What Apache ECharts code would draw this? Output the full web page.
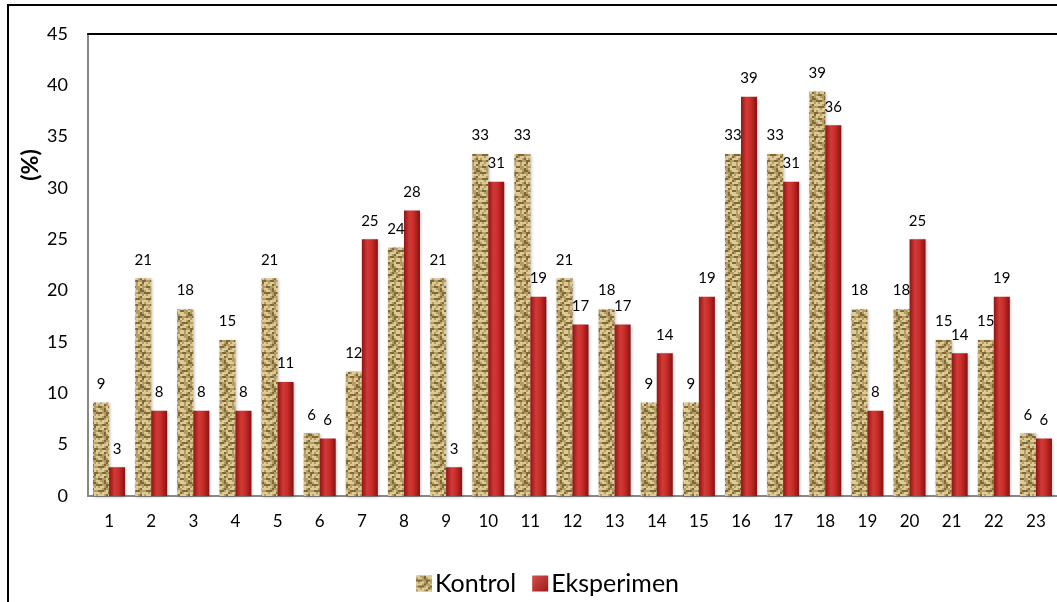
<!DOCTYPE html>
<html><head><meta charset="utf-8">
<script src="https://cdn.jsdelivr.net/npm/echarts@6/dist/echarts.min.js"></script>
<style>html,body{margin:0;padding:0;background:#fff}#c{width:1057px;height:602px}</style>
</head><body><div id="c"></div>
<script>
var categories = ['1','2','3','4','5','6','7','8','9','10','11','12','13','14','15','16','17','18','19','20','21','22','23'];
var kontrol = [9.1,21.2,18.2,15.2,21.2,6.1,12.1,24.2,21.2,33.3,33.3,21.2,18.2,9.1,9.1,33.3,33.3,39.4,18.2,18.2,15.2,15.2,6.1];
var eksperimen = [2.8,8.3,8.3,8.3,11.1,5.6,25.0,27.8,2.8,30.6,19.4,16.7,16.7,13.9,19.4,38.9,30.6,36.1,8.3,25.0,13.9,19.4,5.6];
var yTicks = [0,5,10,15,20,25,30,35,40,45];

// woven burlap-like texture for Kontrol (fixed hand-made tile)
function makeTexture(){
  var rows = [
    "LLMMDLLLMMDM",
    "MLLMDMLLLMDD",
    "DDDMMDDMMDMM",
    "LMLLMDLMLLLM",
    "LLLMDMMLLMDL",
    "MDDDMLMDDDMM",
    "LLMLLLDMLLML",
    "MLLLMDLLLMDL",
    "DMMDDMMDDMMD",
    "LLMLLMLLMLLD",
    "LMLLDMLLMLDM",
    "MDDMMLDDMMLM"];
  var col = {L:'#ddca94', M:'#b59c63', D:'#7d6839'};
  var s = 2;
  var c = document.createElement('canvas'); c.width = 12*s; c.height = 12*s;
  var g = c.getContext('2d');
  for (var y=0;y<rows.length;y++) for (var x=0;x<rows[y].length;x++){ g.fillStyle = col[rows[y][x]]; g.fillRect(x*s,y*s,s,s); }
  return c;
}
var tex = makeTexture();
var redGrad = new echarts.graphic.LinearGradient(0,0,1,0,[
  {offset:0,color:'#8f1515'},{offset:0.35,color:'#d23a36'},{offset:0.6,color:'#c92d2a'},{offset:1,color:'#861212'}]);
var redIcon = new echarts.graphic.LinearGradient(0,0,1,1,[{offset:0,color:'#d8504a'},{offset:1,color:'#9a1a1a'}]);

var chart = echarts.init(document.getElementById('c'));
chart.setOption({
  animation:false,
  textStyle:{fontFamily:'Lato'},
  grid:{left:88,right:0,top:34,bottom:106},
  graphic:[
    {type:'rect',shape:{x:8,y:5,width:1200,height:700},style:{fill:'none',stroke:'#000',lineWidth:2},silent:true},
    {type:'text',x:31,y:165,rotation:Math.PI/2,style:{text:'(%)',font:'bold 23px Lato',fill:'#000',align:'center',verticalAlign:'middle'}}
  ],
  legend:{left:411,top:566,itemWidth:16,itemHeight:16,itemGap:16,textStyle:{fontSize:25,color:'#000',fontFamily:'Lato',padding:[0,0,0,-2]},
    data:[{name:'Kontrol',icon:'rect'},{name:'Eksperimen',icon:'rect',itemStyle:{color:redIcon}}]},
  xAxis:[{type:'category',data:categories,axisLine:{lineStyle:{color:'#888',width:2}},axisTick:{show:false},
    axisLabel:{color:'#000',fontSize:17,margin:17}},
    {type:'category',position:'top',data:categories,axisLine:{lineStyle:{color:'#000',width:2}},axisTick:{show:false},axisLabel:{show:false}}],
  yAxis:{type:'value',min:0,max:45,interval:5,axisLine:{show:true,lineStyle:{color:'#888',width:2}},axisTick:{show:false},
    splitLine:{show:false},axisLabel:{color:'#000',fontSize:18,margin:20}},
  series:[
    {name:'Kontrol',type:'bar',data:kontrol,barWidth:16,barGap:'0%',
      itemStyle:{color:{image:tex,repeat:'repeat'},shadowColor:'rgba(0,0,0,0.25)',shadowBlur:3,shadowOffsetX:1,shadowOffsetY:1},
      label:{show:true,position:'top',distance:11,color:'#000',fontSize:15,formatter:function(p){return Math.round(p.value);}}},
    {name:'Eksperimen',type:'bar',data:eksperimen,barWidth:16,
      itemStyle:{color:redGrad,shadowColor:'rgba(0,0,0,0.25)',shadowBlur:3,shadowOffsetX:1,shadowOffsetY:1},
      label:{show:true,position:'top',distance:11,color:'#000',fontSize:15,formatter:function(p){return Math.round(p.value);}}}
  ]
});
</script></body></html>
